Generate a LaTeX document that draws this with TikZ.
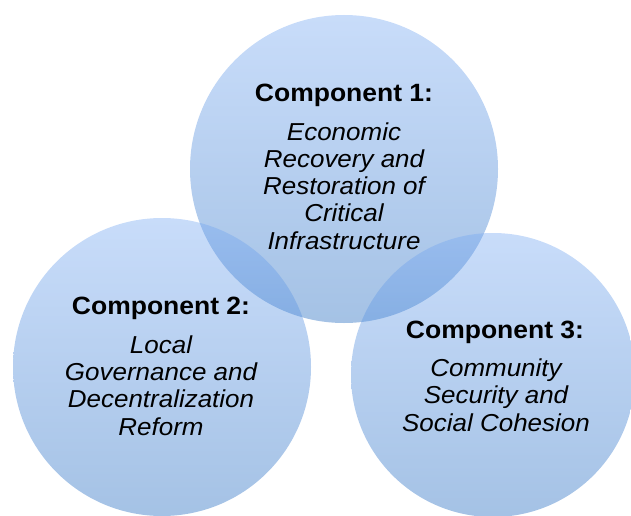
\documentclass[tikz,border=0pt]{standalone}
\usepackage{fontspec}
\setmainfont{Liberation Sans}[FakeStretch=1.06]
\begin{document}
\begin{tikzpicture}[x=1pt,y=-1pt,
  blob/.style={circle, draw=none, inner sep=0pt, minimum size=#1,
    top color={rgb,255:red,118;green,168;blue,242},
    bottom color={rgb,255:red,28;green,102;blue,190},
    fill opacity=0.4},
  head/.style={anchor=base, font=\fontsize{25}{27}\selectfont\bfseries, inner sep=0pt},
  body/.style={anchor=base, align=center, font=\fontsize{24.5}{27.2}\selectfont\itshape, inner sep=0pt}]
\useasboundingbox (0,0) rectangle (631,516);
\node[blob=308pt] (c1) at (344,169) {};
\node[blob=298pt] (c2) at (162,367) {};
\node[blob=284pt] (c3) at (493,375) {};
\node[head] (h1) at (344,102) {Component 1:};
\node[body] (b1) at (344,249) {Economic\\Recovery and\\Restoration of\\Critical\\Infrastructure};
\node[head] (h2) at (161,314) {Component 2:};
\node[body] (b2) at (161,435) {Local\\Governance and\\Decentralization\\Reform};
\node[head] (h3) at (495,338) {Component 3:};
\node[body] (b3) at (496,431) {Community\\Security and\\Social Cohesion};
\end{tikzpicture}
\end{document}
